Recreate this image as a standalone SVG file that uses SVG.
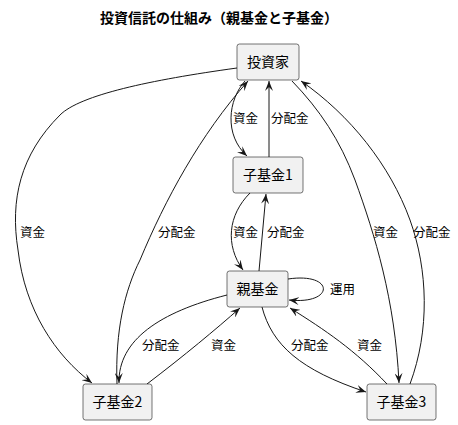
<svg xmlns="http://www.w3.org/2000/svg" width="458" height="425" viewBox="0 0 458 425">
<style>
.node rect{fill:#F1F1F1;stroke:#181818;stroke-width:0.6}
.node text{font-family:"Noto Sans CJK JP","Noto Sans",sans-serif;font-size:14px;fill:#000;text-anchor:middle}
.edges path{fill:none;stroke:#181818;stroke-width:1;marker-end:url(#ah)}
.lbl{font-family:"Noto Sans CJK JP","Noto Sans",sans-serif;font-size:12.5px;fill:#000}
.title{font-family:"Noto Sans CJK JP","Noto Sans",sans-serif;font-size:14px;font-weight:bold;fill:#000;text-anchor:middle}
</style>
<defs>
<marker id="ah" viewBox="0 0 10 8" refX="10" refY="4" markerWidth="10" markerHeight="8" markerUnits="userSpaceOnUse" orient="auto">
<path d="M0,0 L10,4 L0,8 L4,4 Z" fill="#181818"/>
</marker>
</defs>
<rect width="458" height="425" fill="#fff"/>
<text class="title" x="219" y="23">投資信託の仕組み（親基金と子基金）</text>
<g class="edges">
<path d="M245,81 C228,100 224,135 247,156"/>
<path d="M269,157 L269,81"/>
<path d="M250,193 C228,215 225,245 243,270"/>
<path d="M259,271 L266,194"/>
<path d="M288,279 C335,272 335,305 289,300"/>
<path d="M227,295 C160,312 118,340 119,383"/>
<path d="M147,384 C185,355 215,330 240,308"/>
<path d="M262,307 C272,345 300,370 366,392"/>
<path d="M387,384 C355,350 325,330 290,308"/>
<path d="M237,68 C150,80 80,95 60,115 C20,155 10,200 18,250 C25,310 55,355 92,383"/>
<path d="M117,384 C115,330 125,290 140,260 C165,200 200,135 248,81"/>
<path d="M292,81 C320,110 340,140 355,180 C375,235 395,300 399,383"/>
<path d="M410,384 C430,330 428,270 410,220 C390,165 350,115 301,81"/>
</g>
<g class="labels">
<text class="lbl" x="233" y="123">資金</text>
<text class="lbl" x="271" y="123">分配金</text>
<text class="lbl" x="20" y="237">資金</text>
<text class="lbl" x="158" y="237">分配金</text>
<text class="lbl" x="233" y="237">資金</text>
<text class="lbl" x="267" y="237">分配金</text>
<text class="lbl" x="373" y="237">資金</text>
<text class="lbl" x="413" y="237">分配金</text>
<text class="lbl" x="330" y="294">運用</text>
<text class="lbl" x="142" y="350">分配金</text>
<text class="lbl" x="211" y="350">資金</text>
<text class="lbl" x="291" y="350">分配金</text>
<text class="lbl" x="357" y="350">資金</text>
</g>
<g id="investor" class="node"><rect x="237" y="44" width="62" height="36" rx="2.5"/><text x="268" y="67">投資家</text></g>
<g id="child1" class="node"><rect x="233" y="157" width="70" height="36" rx="2.5"/><text x="268" y="180">子基金1</text></g>
<g id="parent" class="node"><rect x="227" y="271" width="61" height="36" rx="2.5"/><text x="257.5" y="294">親基金</text></g>
<g id="child2" class="node"><rect x="83" y="384" width="69" height="36" rx="2.5"/><text x="117.5" y="407">子基金2</text></g>
<g id="child3" class="node"><rect x="367" y="384" width="69" height="36" rx="2.5"/><text x="401.5" y="407">子基金3</text></g>
</svg>
